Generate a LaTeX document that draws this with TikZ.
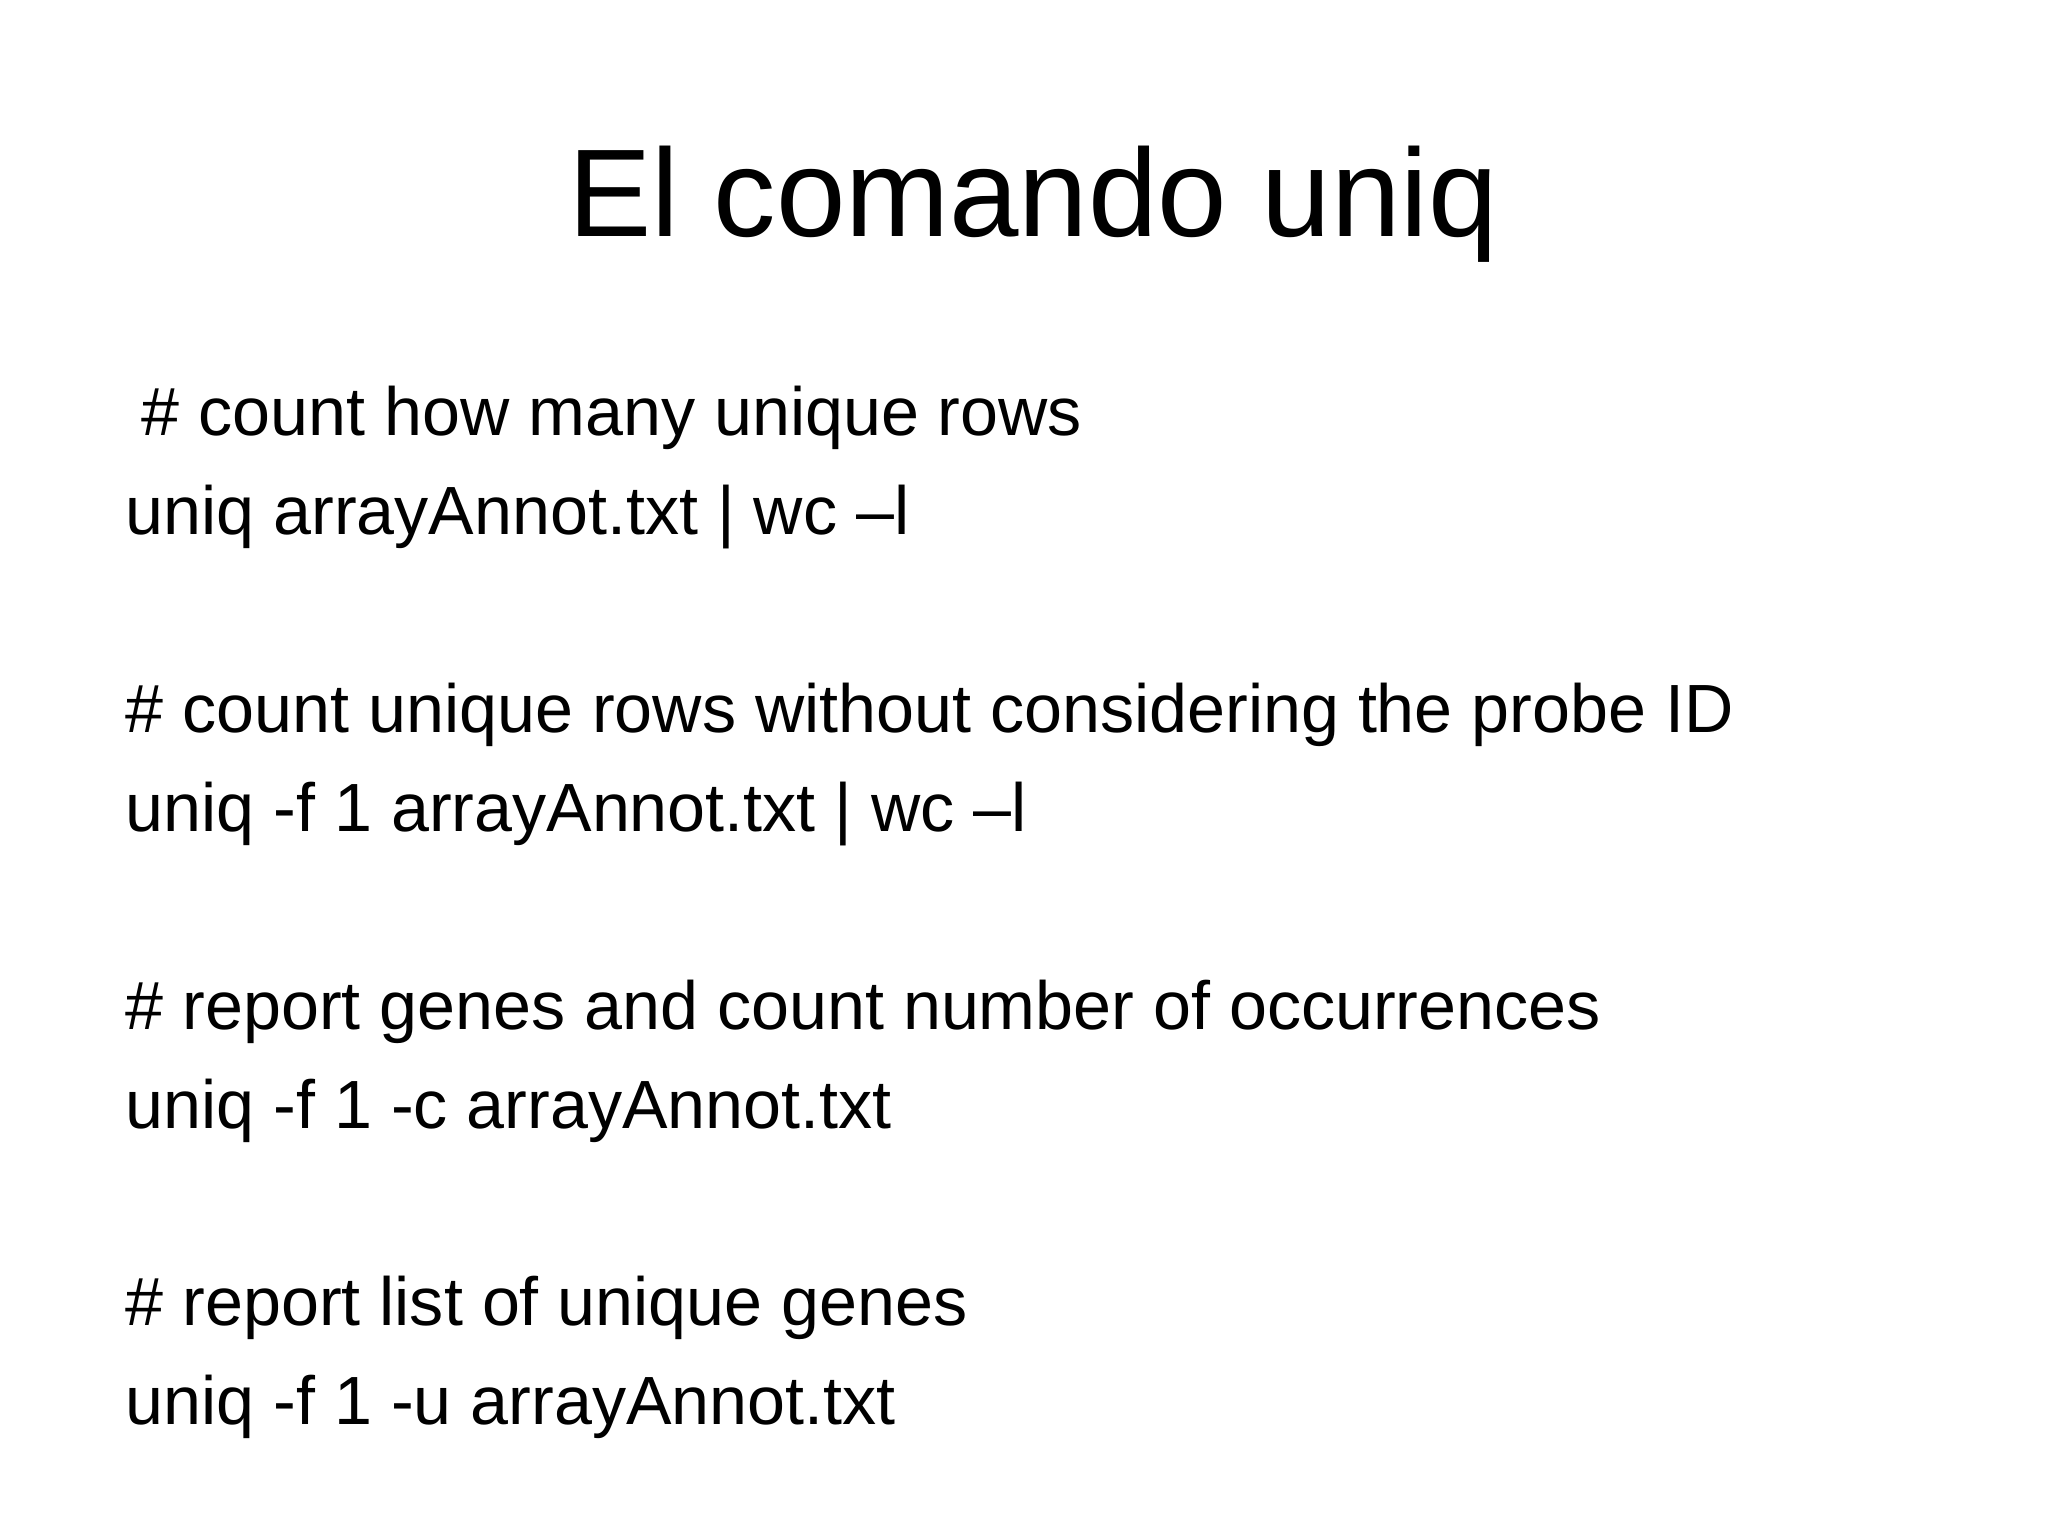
\documentclass[tikz,border=0pt]{standalone}
\usepackage{fontspec}
\setmainfont{Liberation Sans}
\begin{document}
\begin{tikzpicture}[x=0.01cm,y=-0.01cm,
  body/.style={anchor=base west,inner sep=0pt,font=\fontsize{19.4pt}{24pt}\selectfont}]
\useasboundingbox (0,0) rectangle (2048,1536);
\node[anchor=base,inner sep=0pt,font=\fontsize{35.5pt}{44pt}\selectfont] (title) at (1033,236) {El comando uniq};
\node[body] (c1) at (141,435) {\# count how many unique rows};
\node[body] (l1) at (125,534) {uniq arrayAnnot.txt | wc –l};
\node[body] (c2) at (125,732) {\# count unique rows without considering the probe ID};
\node[body] (l2) at (125,831) {uniq -f 1 arrayAnnot.txt | wc –l};
\node[body] (c3) at (125,1029) {\# report genes and count number of occurrences};
\node[body] (l3) at (125,1128) {uniq -f 1 -c arrayAnnot.txt};
\node[body] (c4) at (125,1325) {\# report list of unique genes};
\node[body] (l4) at (125,1424) {uniq -f 1 -u arrayAnnot.txt};
\end{tikzpicture}
\end{document}
